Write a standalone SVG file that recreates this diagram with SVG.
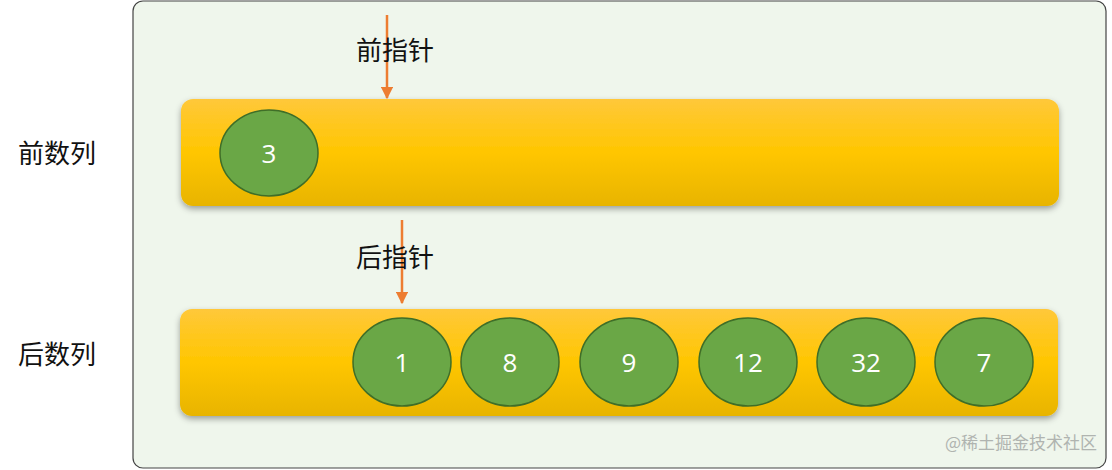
<svg xmlns="http://www.w3.org/2000/svg" width="1112" height="470" viewBox="0 0 1112 470">
<style>
.lbl{font-family:"Noto Sans CJK SC","Noto Sans",sans-serif;font-size:26px;fill:#111}
.num{font-family:"Open Sans","Noto Sans",sans-serif;font-size:26px;fill:#fff;text-anchor:middle;dominant-baseline:central}
.node{fill:#6aa746;stroke:#3f6e28;stroke-width:1.5}
.bar{fill:url(#g);filter:url(#sh)}
.ptr{stroke:#ed7d31;stroke-width:2.5;marker-end:url(#ah)}
</style>
<defs>
<linearGradient id="g" x1="0" y1="0" x2="0" y2="1"><stop offset="0" stop-color="#ffc83a"/><stop offset="0.5" stop-color="#ffc600"/><stop offset="1" stop-color="#e8b400"/></linearGradient>
<filter id="sh" x="-5%" y="-20%" width="110%" height="140%"><feDropShadow dx="0" dy="3" stdDeviation="3" flood-color="#000" flood-opacity="0.35"/></filter>
<marker id="ah" viewBox="0 0 10 10" refX="9" refY="5" markerWidth="5" markerHeight="5" orient="auto"><path d="M0,0L10,5L0,10z" fill="#ed7d31"/></marker>
</defs>
<rect x="133" y="1" width="973" height="467" rx="10" fill="#eff6ec" stroke="#444" stroke-width="1.2"/>
<text class="lbl" x="18" y="163">前数列</text>
<text class="lbl" x="18" y="364">后数列</text>
<g id="bar1"><rect class="bar" x="181" y="99" width="878" height="107" rx="12"/></g>
<g id="bar2"><rect class="bar" x="180" y="309" width="878" height="107" rx="12"/></g>
<g id="n3"><ellipse class="node" cx="269" cy="153" rx="49" ry="43"/><text class="num" x="269" y="153">3</text></g>
<g id="n1"><ellipse class="node" cx="402" cy="362" rx="49" ry="44"/><text class="num" x="402" y="362">1</text></g>
<g id="n8"><ellipse class="node" cx="510" cy="362" rx="49" ry="44"/><text class="num" x="510" y="362">8</text></g>
<g id="n9"><ellipse class="node" cx="629" cy="362" rx="49" ry="44"/><text class="num" x="629" y="362">9</text></g>
<g id="n12"><ellipse class="node" cx="748" cy="362" rx="49" ry="44"/><text class="num" x="748" y="362">12</text></g>
<g id="n32"><ellipse class="node" cx="866" cy="362" rx="49" ry="44"/><text class="num" x="866" y="362">32</text></g>
<g id="n7"><ellipse class="node" cx="984" cy="362" rx="49" ry="44"/><text class="num" x="984" y="362">7</text></g>
<g id="connectors">
<line class="ptr" x1="387" y1="15" x2="387" y2="98"/>
<line class="ptr" x1="402" y1="220" x2="402" y2="303"/>
</g>
<text class="lbl" x="356" y="60">前指针</text>
<text class="lbl" x="356" y="267">后指针</text>
<text x="1097" y="449" text-anchor="end" style="font-family:'Noto Sans CJK SC',sans-serif;font-size:17px;fill:#b0b4b0">@稀土掘金技术社区</text>
</svg>
